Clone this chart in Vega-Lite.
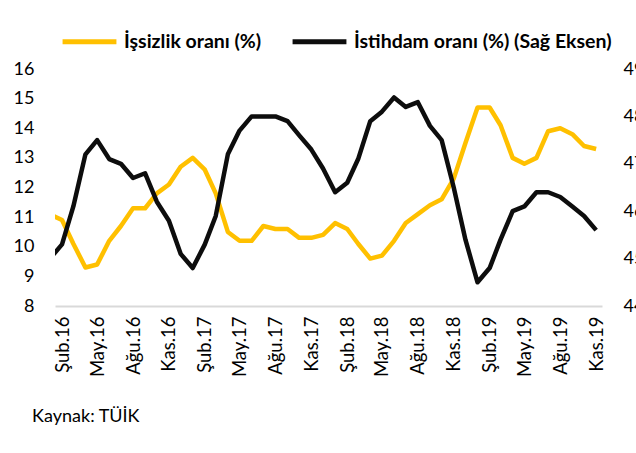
{
  "$schema": "https://vega.github.io/schema/vega-lite/v6.json",
  "width": 547,
  "height": 237,
  "autosize": {"type": "none"},
  "padding": {"left": 55, "top": 69, "right": 34, "bottom": 147},
  "background": "white",
  "config": {
    "view": {"stroke": null},
    "font": "Lato",
    "axis": {"labelFont": "Lato", "labelColor": "#000000", "grid": false, "ticks": false, "title": null}
  },
  "title": {
    "text": "Kaynak: TÜİK",
    "orient": "bottom",
    "anchor": "start",
    "font": "Lato",
    "fontSize": 18,
    "fontWeight": "normal",
    "color": "#000000",
    "dx": 19,
    "offset": 31
  },
  "data": {
    "values": [
      {"date": "2016-01-01", "issizlik": 11.1, "istihdam": 45.0},
      {"date": "2016-02-01", "issizlik": 10.9, "istihdam": 45.3},
      {"date": "2016-03-01", "issizlik": 10.1, "istihdam": 46.1},
      {"date": "2016-04-01", "issizlik": 9.3, "istihdam": 47.2},
      {"date": "2016-05-01", "issizlik": 9.4, "istihdam": 47.5},
      {"date": "2016-06-01", "issizlik": 10.2, "istihdam": 47.1},
      {"date": "2016-07-01", "issizlik": 10.7, "istihdam": 47.0},
      {"date": "2016-08-01", "issizlik": 11.3, "istihdam": 46.7},
      {"date": "2016-09-01", "issizlik": 11.3, "istihdam": 46.8},
      {"date": "2016-10-01", "issizlik": 11.8, "istihdam": 46.2},
      {"date": "2016-11-01", "issizlik": 12.1, "istihdam": 45.8},
      {"date": "2016-12-01", "issizlik": 12.7, "istihdam": 45.1},
      {"date": "2017-01-01", "issizlik": 13.0, "istihdam": 44.8},
      {"date": "2017-02-01", "issizlik": 12.6, "istihdam": 45.3},
      {"date": "2017-03-01", "issizlik": 11.8, "istihdam": 45.9},
      {"date": "2017-04-01", "issizlik": 10.5, "istihdam": 47.2},
      {"date": "2017-05-01", "issizlik": 10.2, "istihdam": 47.7},
      {"date": "2017-06-01", "issizlik": 10.2, "istihdam": 48.0},
      {"date": "2017-07-01", "issizlik": 10.7, "istihdam": 48.0},
      {"date": "2017-08-01", "issizlik": 10.6, "istihdam": 48.0},
      {"date": "2017-09-01", "issizlik": 10.6, "istihdam": 47.9},
      {"date": "2017-10-01", "issizlik": 10.3, "istihdam": 47.6},
      {"date": "2017-11-01", "issizlik": 10.3, "istihdam": 47.3},
      {"date": "2017-12-01", "issizlik": 10.4, "istihdam": 46.9},
      {"date": "2018-01-01", "issizlik": 10.8, "istihdam": 46.4},
      {"date": "2018-02-01", "issizlik": 10.6, "istihdam": 46.6},
      {"date": "2018-03-01", "issizlik": 10.1, "istihdam": 47.1},
      {"date": "2018-04-01", "issizlik": 9.6, "istihdam": 47.9},
      {"date": "2018-05-01", "issizlik": 9.7, "istihdam": 48.1},
      {"date": "2018-06-01", "issizlik": 10.2, "istihdam": 48.4},
      {"date": "2018-07-01", "issizlik": 10.8, "istihdam": 48.2},
      {"date": "2018-08-01", "issizlik": 11.1, "istihdam": 48.3},
      {"date": "2018-09-01", "issizlik": 11.4, "istihdam": 47.8},
      {"date": "2018-10-01", "issizlik": 11.6, "istihdam": 47.5},
      {"date": "2018-11-01", "issizlik": 12.3, "istihdam": 46.5},
      {"date": "2018-12-01", "issizlik": 13.5, "istihdam": 45.4},
      {"date": "2019-01-01", "issizlik": 14.7, "istihdam": 44.5},
      {"date": "2019-02-01", "issizlik": 14.7, "istihdam": 44.8},
      {"date": "2019-03-01", "issizlik": 14.1, "istihdam": 45.4},
      {"date": "2019-04-01", "issizlik": 13.0, "istihdam": 46.0},
      {"date": "2019-05-01", "issizlik": 12.8, "istihdam": 46.1},
      {"date": "2019-06-01", "issizlik": 13.0, "istihdam": 46.4},
      {"date": "2019-07-01", "issizlik": 13.9, "istihdam": 46.4},
      {"date": "2019-08-01", "issizlik": 14.0, "istihdam": 46.3},
      {"date": "2019-09-01", "issizlik": 13.8, "istihdam": 46.1},
      {"date": "2019-10-01", "issizlik": 13.4, "istihdam": 45.9},
      {"date": "2019-11-01", "issizlik": 13.3, "istihdam": 45.6}
    ]
  },
  "encoding": {
    "x": {
      "field": "date",
      "type": "temporal",
      "scale": {
        "type": "utc",
        "domain": [
          {"year": 2016, "month": 1, "date": 14, "utc": true},
          {"year": 2019, "month": 11, "date": 16, "utc": true}
        ]
      },
      "axis": {
        "values": [
          {"year": 2016, "month": 2, "date": 1, "utc": true},
          {"year": 2016, "month": 5, "date": 1, "utc": true},
          {"year": 2016, "month": 8, "date": 1, "utc": true},
          {"year": 2016, "month": 11, "date": 1, "utc": true},
          {"year": 2017, "month": 2, "date": 1, "utc": true},
          {"year": 2017, "month": 5, "date": 1, "utc": true},
          {"year": 2017, "month": 8, "date": 1, "utc": true},
          {"year": 2017, "month": 11, "date": 1, "utc": true},
          {"year": 2018, "month": 2, "date": 1, "utc": true},
          {"year": 2018, "month": 5, "date": 1, "utc": true},
          {"year": 2018, "month": 8, "date": 1, "utc": true},
          {"year": 2018, "month": 11, "date": 1, "utc": true},
          {"year": 2019, "month": 2, "date": 1, "utc": true},
          {"year": 2019, "month": 5, "date": 1, "utc": true},
          {"year": 2019, "month": 8, "date": 1, "utc": true},
          {"year": 2019, "month": 11, "date": 1, "utc": true}
        ],
        "labelExpr": "['Oca','Şub','Mar','Nis','May','Haz','Tem','Ağu','Eyl','Eki','Kas','Ara'][utcmonth(datum.value)] + '.' + utcFormat(datum.value, '%y')",
        "labelAngle": -90,
        "labelFontSize": 18.5,
        "labelPadding": 10,
        "labelOverlap": false,
        "labelFlush": false,
        "domain": true,
        "domainColor": "#d9d9d9",
        "domainWidth": 2
      }
    }
  },
  "layer": [
    {
      "mark": {"type": "line", "strokeWidth": 4.5, "clip": true, "strokeJoin": "round"},
      "encoding": {
        "y": {
          "field": "issizlik",
          "type": "quantitative",
          "scale": {"domain": [8, 16], "nice": false, "zero": false},
          "axis": {
            "orient": "left",
            "values": [8, 9, 10, 11, 12, 13, 14, 15, 16],
            "domain": false,
            "labelFontSize": 18,
            "labelPadding": 21
          }
        },
        "color": {
          "datum": "İşsizlik oranı (%)",
          "type": "nominal",
          "scale": {
            "domain": ["İşsizlik oranı (%)", "İstihdam oranı (%) (Sağ Eksen)"],
            "range": ["#FFC000", "#0D0D0D"]
          },
          "legend": {
            "orient": "none",
            "legendX": 5,
            "legendY": -57,
            "direction": "horizontal",
            "title": null,
            "symbolType": "stroke",
            "symbolStrokeWidth": 5,
            "symbolSize": 2900,
            "labelFont": "Lato",
            "labelFontSize": 19.5,
            "labelFontWeight": "bold",
            "labelColor": "#000000",
            "labelOffset": 5,
            "columnPadding": 20,
            "labelLimit": 400
          }
        }
      }
    },
    {
      "mark": {"type": "line", "strokeWidth": 4.5, "clip": true, "strokeJoin": "round"},
      "encoding": {
        "y": {
          "field": "istihdam",
          "type": "quantitative",
          "scale": {"domain": [44, 49], "nice": false, "zero": false},
          "axis": {
            "orient": "right",
            "values": [44, 45, 46, 47, 48, 49],
            "domain": false,
            "labelFontSize": 18,
            "labelPadding": 21
          }
        },
        "color": {"datum": "İstihdam oranı (%) (Sağ Eksen)", "type": "nominal"}
      }
    }
  ],
  "resolve": {"scale": {"y": "independent"}}
}
